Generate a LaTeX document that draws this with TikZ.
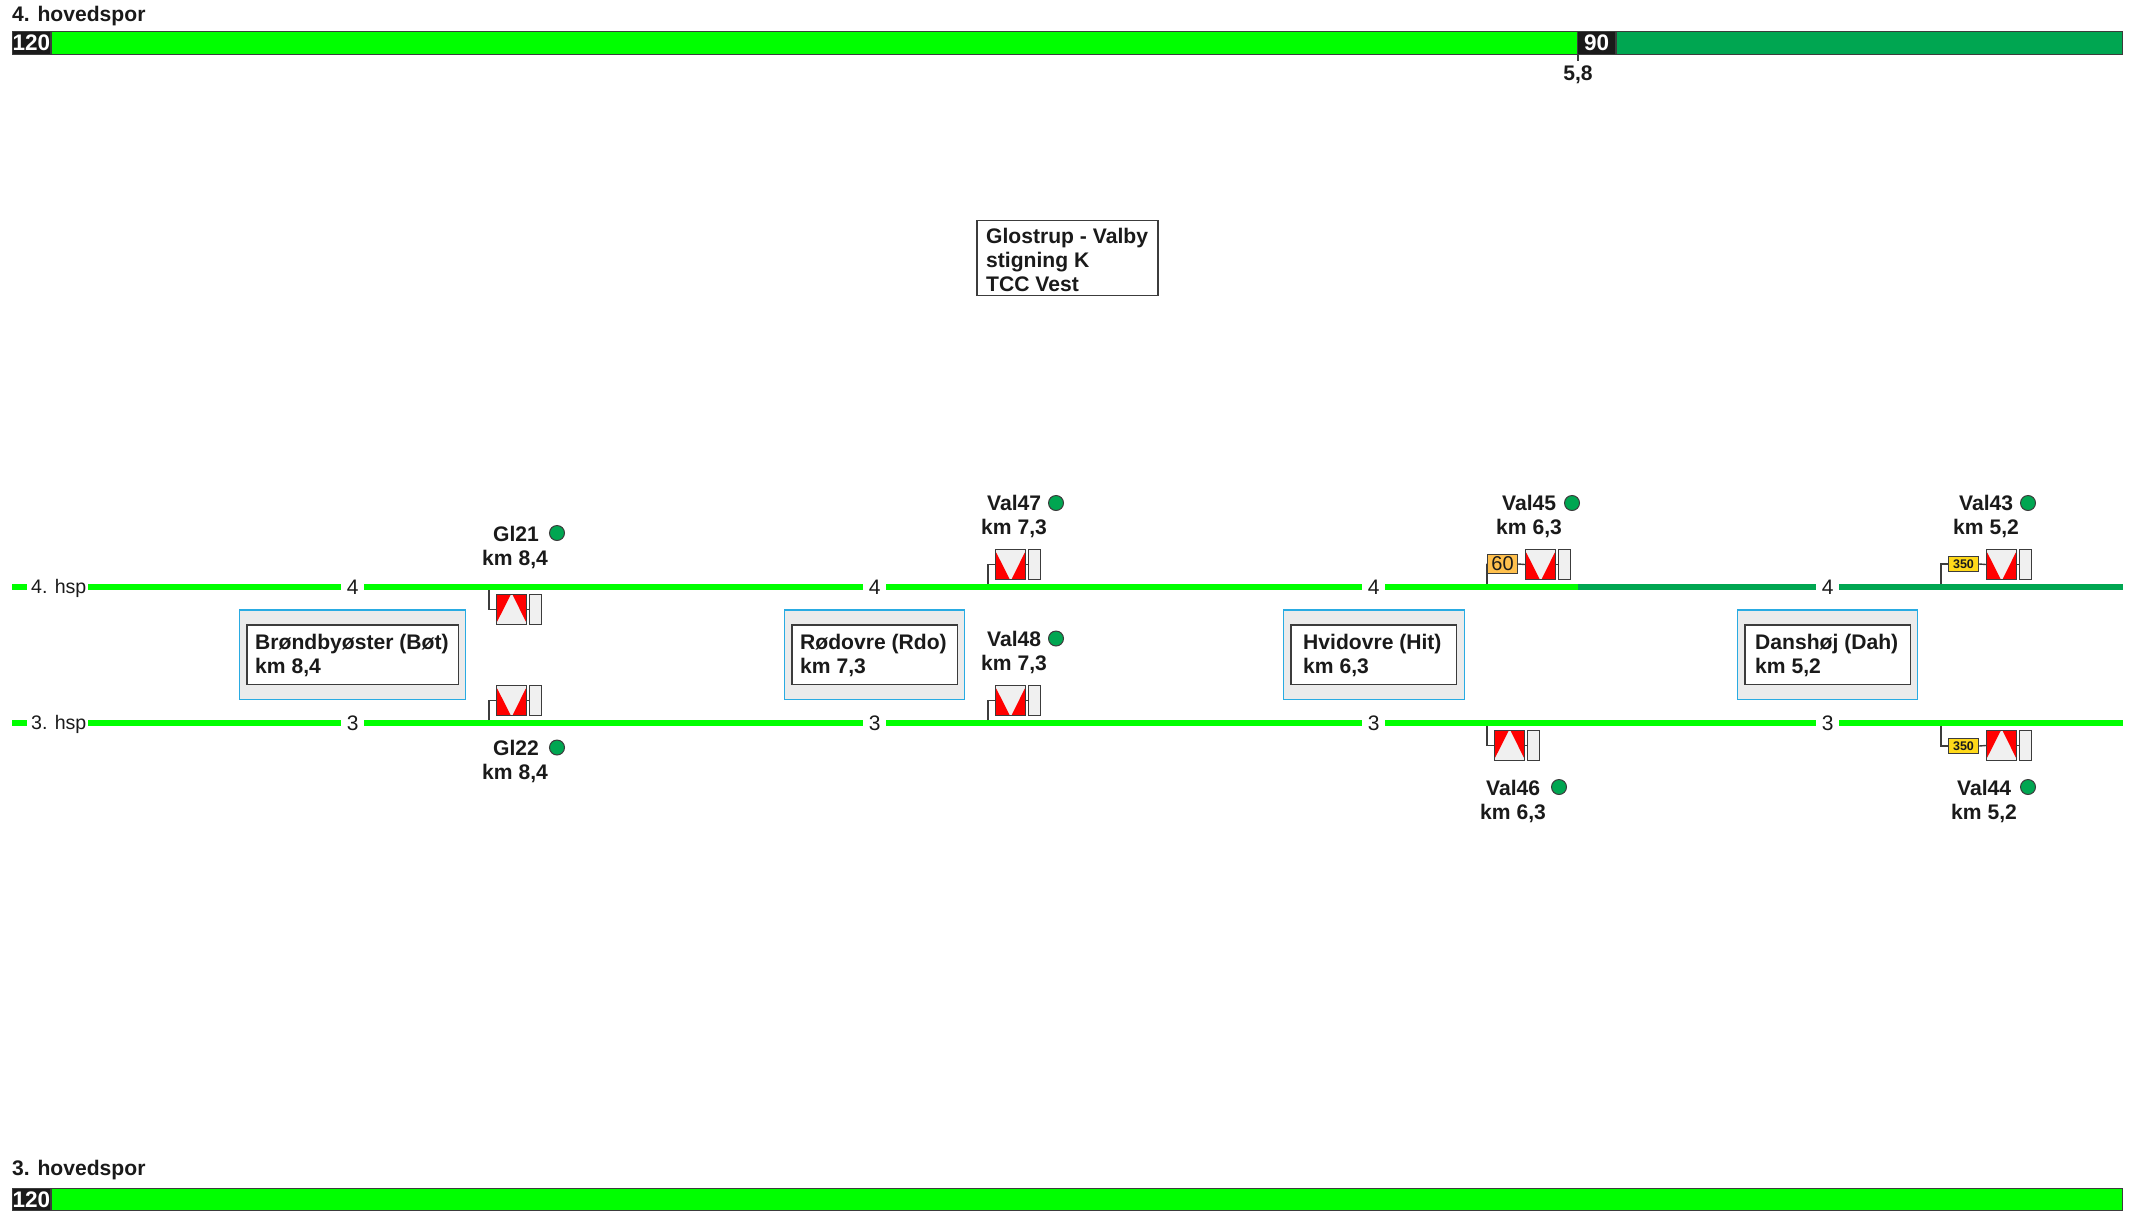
\documentclass[tikz,border=0pt]{standalone}
\usepackage{fontspec}
\setmainfont{Liberation Sans}
\definecolor{brightg}{HTML}{00FF00}
\definecolor{darkg}{HTML}{00A651}
\definecolor{ink}{HTML}{1A1A1A}
\definecolor{edge}{HTML}{3C3C3C}
\definecolor{stblue}{HTML}{29ABE2}
\definecolor{stgrey}{HTML}{EBEBEB}
\definecolor{sigw}{HTML}{F0F0F0}
\definecolor{orsign}{HTML}{FFC04D}
\definecolor{ylsign}{HTML}{FFD91A}
\tikzset{
  bold/.style={inner sep=0pt,anchor=base west,text=ink,font=\fontsize{21.1}{21.1}\selectfont\bfseries},
  plain/.style={inner sep=0pt,anchor=base,text=ink,font=\fontsize{21}{21}\selectfont},
  hsplab/.style={inner sep=0pt,anchor=base west,text=ink,font=\fontsize{19.6}{19.6}\selectfont},
  barseg/.style={draw=edge,line width=1pt,inner sep=0pt,anchor=north west,minimum height=22.5pt},
  speed/.style={barseg,fill=ink,text=white,font=\fontsize{22.5}{22.5}\selectfont\bfseries},
  track/.style={line width=6pt,brightg},
  trackd/.style={line width=6pt,darkg},
  branch/.style={draw=edge,line width=1.4pt},
  sigbox/.style={draw=edge,line width=1.4pt,minimum width=30pt,minimum height=30pt,inner sep=0pt},
  auxbox/.style={draw=edge,line width=1.4pt,fill=sigw,minimum width=12pt,minimum height=30pt,inner sep=0pt},
  outerst/.style={draw=stblue,line width=1.4pt,fill=stgrey,inner sep=0pt},
  innerst/.style={draw=edge,line width=1.6pt,fill=white,inner sep=0pt},
  dot/.style={circle,draw=edge,line width=1pt,fill=darkg,minimum size=15pt,inner sep=0pt},
  signa/.style={draw=edge,line width=1.4pt,inner sep=0pt,minimum width=30pt},
}
% signal: name, x, y of top left corner; up = white wedge pointing up
\newcommand{\sigup}[3]{\begin{scope}[shift={(#2,#3)}]
  \node[sigbox,fill=sigw] (#1) at (15.5,15.5) {};
  \fill[red] (1.2,1.2) -- (14.5,1.2) -- (1.2,27.5) -- cycle;
  \fill[red] (16.8,1.2) -- (29.8,1.2) -- (29.8,27.5) -- cycle;
  \node[auxbox] (#1aux) at (39.5,15.5) {};
  \draw[branch] (#1.east) -- (#1aux.west);
\end{scope}}
\newcommand{\sigdown}[3]{\begin{scope}[shift={(#2,#3)}]
  \node[sigbox,fill=sigw] (#1) at (15.5,15.5) {};
  \fill[red] (1.2,29.8) -- (14.5,29.8) -- (1.2,3.5) -- cycle;
  \fill[red] (16.8,29.8) -- (29.8,29.8) -- (29.8,3.5) -- cycle;
  \node[auxbox] (#1aux) at (39.5,15.5) {};
  \draw[branch] (#1.east) -- (#1aux.west);
\end{scope}}
\begin{document}
\begin{tikzpicture}[x=1pt,y=-1pt]
\useasboundingbox (0,0) rectangle (2134,1216);
% top bar
\node[bold] (title4) at (12,21) {4. hovedspor};
\node[barseg,fill=brightg,minimum width=1526pt] (bar4a) at (51,31) {};
\node[barseg,fill=darkg,minimum width=506pt] (bar4b) at (1616,31) {};
\node[speed,minimum width=38pt] (sp120a) at (12,31) {120};
\node[speed,minimum width=38pt] (sp90) at (1577,31) {90};
\coordinate (tk) at (1578,61);
\draw[branch] (sp90.south west) ++(1,0) -- (tk);
\node[bold,anchor=base] (km58) at (1578,80) {5,8};
% bottom bar
\node[bold] (title3) at (12,1175.5) {3. hovedspor};
\node[barseg,fill=brightg,minimum width=2071pt] (bar3a) at (51,1187.5) {};
\node[speed,minimum width=38pt] (sp120b) at (12,1187.5) {120};
% title box
\node[draw=edge,line width=1.4pt,fill=white,anchor=north west,minimum width=181pt,minimum height=75pt,inner sep=0pt] (info) at (976.3,219.7) {};
\node[bold] (info1) at (986,243.5) {Glostrup - Valby};
\node[bold] (info2) at (986,267.5) {stigning K};
\node[bold] (info3) at (986,291.5) {TCC Vest};
% track 4
\foreach \n/\a/\b in {a/12/27,b/88/341,c/364/863,d/886/1362}{
  \coordinate (f\n s) at (\a,587); \coordinate (f\n e) at (\b,587);
  \draw[track] (f\n s) -- (f\n e);}
\coordinate (fes) at (1385,587); \coordinate (fem) at (1578,587); \coordinate (fee) at (1816,587);
\draw[track] (fes) -- (fem);
\draw[trackd] (fem) -- (fee);
\coordinate (ffs) at (1839,587); \coordinate (ffe) at (2123,587);
\draw[trackd] (ffs) -- (ffe);
% track 3
\foreach \n/\a/\b in {a/12/27,b/88/341,c/364/863,d/886/1362,e/1385/1816,f/1839/2123}{
  \coordinate (t\n s) at (\a,723); \coordinate (t\n e) at (\b,723);
  \draw[track] (t\n s) -- (t\n e);}
% track labels
\node[hsplab] (h4) at (31,593.5) {4. hsp};
\node[hsplab] (h3) at (31,729.5) {3. hsp};
\node[plain] (n4a) at (352.8,594.5) {4};
\node[plain] (n4b) at (874.8,594.5) {4};
\node[plain] (n4c) at (1373.8,594.5) {4};
\node[plain] (n4d) at (1827.8,594.5) {4};
\node[plain] (n3a) at (352.8,730.5) {3};
\node[plain] (n3b) at (874.8,730.5) {3};
\node[plain] (n3c) at (1373.8,730.5) {3};
\node[plain] (n3d) at (1827.8,730.5) {3};
% stations
\foreach \n/\a/\b/\c/\d in {bot/239/466/246/459,rdo/784/965/791/958,hit/1283/1465/1290/1457,dah/1737/1918/1744/1911}{
  \pgfmathsetmacro{\wo}{\b-\a-0.6}\pgfmathsetmacro{\wi}{\d-\c-1.2}
  \node[outerst,anchor=north west,minimum width=\wo pt,minimum height=89.6pt] (o\n) at (\a-0.4,609.3) {};
  \node[innerst,anchor=north west,minimum width=\wi pt,minimum height=59.6pt] (i\n) at (\c,624) {};
}
\node[bold] (sbot1) at (255,649.5) {Brøndbyøster (Bøt)};
\node[bold] (sbot2) at (255,673.5) {km 8,4};
\node[bold] (srdo1) at (800,649.5) {Rødovre (Rdo)};
\node[bold] (srdo2) at (800,673.5) {km 7,3};
\node[bold] (shit1) at (1303,649.5) {Hvidovre (Hit)};
\node[bold] (shit2) at (1303,673.5) {km 6,3};
\node[bold] (sdah1) at (1755,649.5) {Danshøj (Dah)};
\node[bold] (sdah2) at (1755,673.5) {km 5,2};
% signals
\sigup{gl21}{496}{594}
\sigdown{gl22}{496}{685}
\sigdown{val47}{995}{549}
\sigdown{val48}{995}{685}
\sigdown{val45}{1525}{549}
\sigup{val46}{1494}{730}
\sigdown{val43}{1986}{549}
\sigup{val44}{1986}{730}
% speed signs
\node[signa,fill=orsign,minimum height=19pt,text=ink,font=\fontsize{20}{20}\selectfont] (s60) at (1502.5,564) {60};
\node[signa,fill=ylsign,minimum height=15pt,text=ink,font=\fontsize{12.5}{12.5}\selectfont\bfseries] (s350a) at (1963.5,564) {350};
\node[signa,fill=ylsign,minimum height=15pt,text=ink,font=\fontsize{12.5}{12.5}\selectfont\bfseries] (s350b) at (1963.5,746) {350};
% branches
\coordinate (bgl21) at (489,590); \draw[branch] (bgl21) |- (gl21.west);
\coordinate (bgl22) at (489,720); \draw[branch] (bgl22) |- (gl22.west);
\coordinate (bv47) at (988,584); \draw[branch] (bv47) |- (val47.west);
\coordinate (bv48) at (988,720); \draw[branch] (bv48) |- (val48.west);
\coordinate (bv45) at (1487,584); \draw[branch] (bv45) |- (s60.west);
\draw[branch] (s60.east) -- (val45.west);
\coordinate (bv46) at (1487,726); \draw[branch] (bv46) |- (val46.west);
\coordinate (bv43) at (1941,584); \draw[branch] (bv43) |- (s350a.west);
\draw[branch] (s350a.east) -- (val43.west);
\coordinate (bv44) at (1941,726); \draw[branch] (bv44) |- (s350b.west);
\draw[branch] (s350b.east) -- (val44.west);
% signal labels
\node[bold] (lgl21) at (493,541) {Gl21};
\node[bold] (kgl21) at (482,565) {km 8,4};
\node[dot] (dgl21) at (557,533) {};
\node[bold] (lgl22) at (493,755.5) {Gl22};
\node[bold] (kgl22) at (482,779.5) {km 8,4};
\node[dot] (dgl22) at (557,747.5) {};
\node[bold] (lv47) at (987,510.5) {Val47};
\node[bold] (kv47) at (981,534) {km 7,3};
\node[dot] (dv47) at (1056,503) {};
\node[bold] (lv48) at (987,646.5) {Val48};
\node[bold] (kv48) at (981,670) {km 7,3};
\node[dot] (dv48) at (1056,638.5) {};
\node[bold] (lv45) at (1502,510.5) {Val45};
\node[bold] (kv45) at (1496,534) {km 6,3};
\node[dot] (dv45) at (1572,503) {};
\node[bold] (lv46) at (1486,795) {Val46};
\node[bold] (kv46) at (1480,819) {km 6,3};
\node[dot] (dv46) at (1559,787) {};
\node[bold] (lv43) at (1959,510.5) {Val43};
\node[bold] (kv43) at (1953,534) {km 5,2};
\node[dot] (dv43) at (2028,503) {};
\node[bold] (lv44) at (1957,795) {Val44};
\node[bold] (kv44) at (1951,819) {km 5,2};
\node[dot] (dv44) at (2028,787) {};
\end{tikzpicture}
\end{document}
